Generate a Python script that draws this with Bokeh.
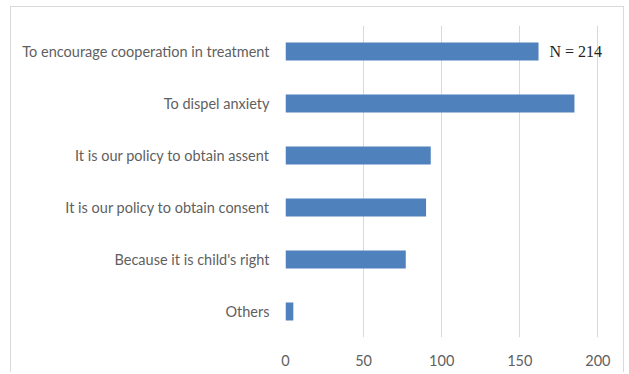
from bokeh.plotting import figure
from bokeh.models import ColumnDataSource, FactorRange, Label, FixedTicker
from bokeh.embed import file_html
from bokeh.resources import INLINE

categories = [
    "To encourage cooperation in treatment",
    "To dispel anxiety",
    "It is our policy to obtain assent",
    "It is our policy to obtain consent",
    "Because it is child's right",
    "Others",
]
values = [162, 185, 93, 90, 77, 5]
x_ticks = [0, 50, 100, 150, 200]
note = "N = 214"

src = ColumnDataSource(dict(cat=categories, val=values))

p = figure(
    width=614, height=366,
    y_range=FactorRange(factors=list(reversed(categories)), range_padding=0),
    x_range=(0, 210),
    output_backend="svg", toolbar_location=None,
    min_border_left=274, min_border_right=12, min_border_top=18, min_border_bottom=36,
)
p.styles = {"border": "1px solid #d9d9d9", "border-bottom": "none",
            "margin-left": "10px", "margin-top": "6px"}
p.hbar(y="cat", right="val", height=0.35, source=src, color="#4f81bd", line_color=None)

p.outline_line_color = None
p.ygrid.grid_line_color = None
p.xgrid.grid_line_color = "#d9d9d9"
p.xaxis.ticker = FixedTicker(ticks=x_ticks)
for ax in (p.xaxis, p.yaxis):
    ax.axis_line_color = None
    ax.major_tick_line_color = None
    ax.minor_tick_line_color = None
    ax.major_label_text_color = "#5f5f5f"
    ax.major_label_text_font = "Lato"
    ax.major_label_text_font_size = "14.5px"
p.xaxis.major_label_standoff = 11
p.yaxis.major_label_standoff = 10
p.y_range.factor_padding = 0

# synthetic coordinate of the top category (factors are centred at i + 0.5)
top_y = len(categories) - 0.5
p.add_layout(Label(x=values[0], y=top_y, text=note, text_font="Liberation Serif",
                   text_font_size="16px", text_color="#222222", text_baseline="middle",
                   x_offset=11))

open("out.html", "w").write(file_html(p, INLINE))
